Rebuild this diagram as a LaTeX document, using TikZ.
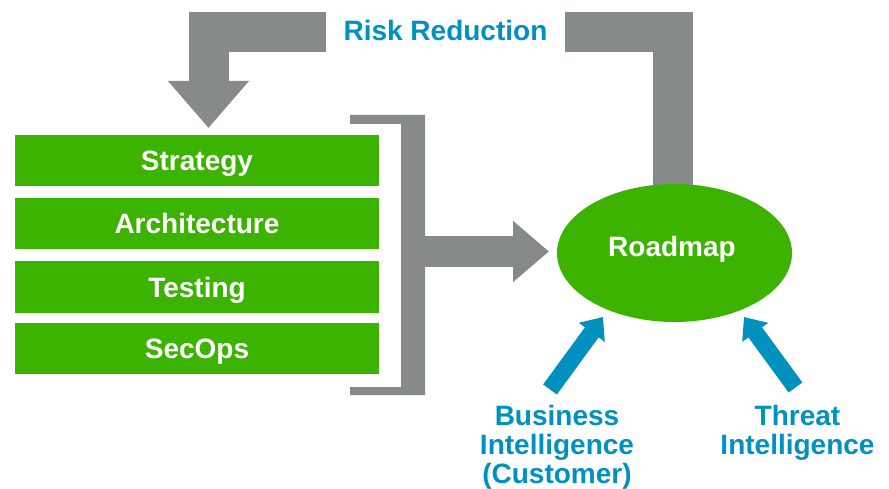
\documentclass[tikz,border=0pt]{standalone}
\usepackage{fontspec}
\setmainfont{Liberation Sans}
\usetikzlibrary{arrows.meta,shapes.geometric}
\definecolor{grn}{HTML}{3CB300}
\definecolor{gry}{HTML}{878A8A}
\definecolor{blu}{HTML}{0091BF}
\begin{document}
\begin{tikzpicture}[x=1pt,y=-1pt,
  bigfont/.style={font=\bfseries\fontsize{28}{29}\selectfont},
  greenbox/.style={bigfont, fill=grn, text=white, minimum width=364pt,
    minimum height=51pt, text height=20pt, text depth=0pt, inner sep=0pt},
  grayarrow/.style={draw=gry, line width=40pt, line join=miter,
    -{Triangle[width=78pt,length=47pt]}},
  midarrow/.style={draw=gry, line width=31pt,
    -{Triangle[width=59pt,length=36pt]}},
  bluearrow/.style={draw=blu, line width=17pt,
    -{Triangle[width=31pt,length=19pt]}},
  bluetext/.style={bigfont, text=blu, align=center, anchor=north, inner sep=0pt}]
\useasboundingbox (0,0) rectangle (889,489);

% green boxes
\node[greenbox] (strategy) at (197,161) {Strategy};
\node[greenbox] (arch) at (197,224) {Architecture};
\node[greenbox] (testing) at (197,287) {Testing};
\node[greenbox] (secops) at (197,348.5) {SecOps};

% bracket
\fill[gry] (350,115) -- (425,115) -- (425,395) -- (350,395) -- (350,387)
  -- (401,387) -- (401,124) -- (350,124) -- cycle;

% top feedback arrow
\coordinate (rr0) at (672.5,200);
\coordinate (rr1) at (672.5,32.5);
\coordinate (rr2) at (208.5,32.5);
\coordinate (rr3) at (208.5,128);
\draw[grayarrow] (rr0) -- (rr1) -- (rr2) -- (rr3);
\node[bigfont, text=blu, fill=white, minimum width=239pt, minimum height=42pt,
  text height=17pt, text depth=0pt, inner sep=0pt] (risk) at (445.5,32.5) {Risk Reduction};

% roadmap
\node[ellipse, fill=grn, minimum width=235pt, minimum height=138pt, inner sep=0pt]
  (roadmap) at (674.5,253) {};
\node[bigfont, text=white, anchor=base, inner sep=0pt] (roadmaplbl) at (672,257) {Roadmap};

% bracket to roadmap
\coordinate (brk) at (424,251.5);
\coordinate (rmin) at (549,251.5);
\draw[midarrow] (brk) -- (rmin);

% blue inputs
\node[bluetext] (biz) at (557,405) {Business\\Intelligence\\(Customer)};
\node[bluetext] (threat) at (797.5,405) {Threat\\Intelligence};
\coordinate (biztail) at (550,389.5);
\coordinate (biztip) at (603,317);
\coordinate (thrtail) at (795.5,387.5);
\coordinate (thrtip) at (744,317);
\draw[bluearrow] (biztail) -- (biztip);
\draw[bluearrow] (thrtail) -- (thrtip);
\end{tikzpicture}
\end{document}
